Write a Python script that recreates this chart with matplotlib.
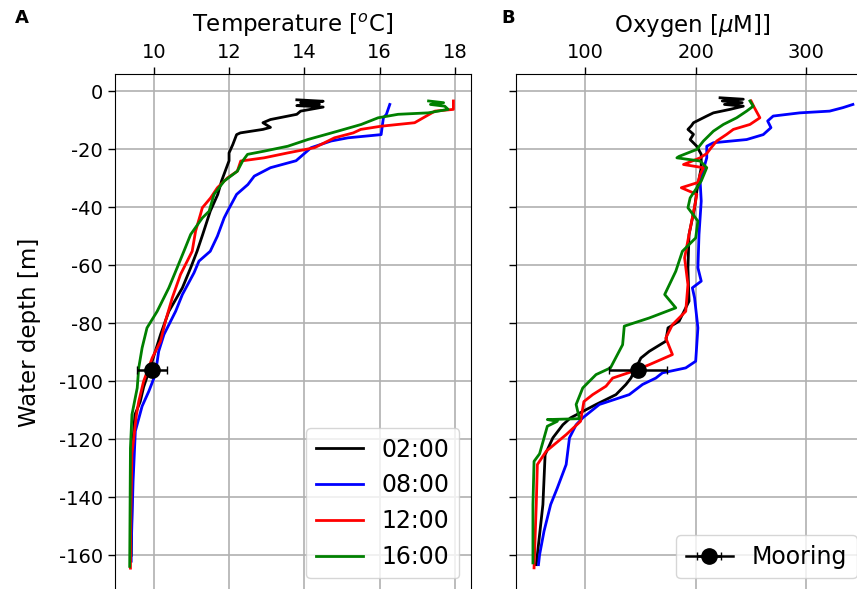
import matplotlib
matplotlib.use("Agg")
import matplotlib.pyplot as plt

plt.rcParams["axes.unicode_minus"] = False

# ---- temperature profiles (depth [m], temperature [C]) ----
t02_depth = [-3.0, -3.5, -4.0, -4.5, -5.0, -5.5, -6.9, -8.0, -9.8, -10.9, -12.5, -13.2, -14.4, -15.0,
             -18.4, -21.3, -24.0, -31.0, -35.6, -41.4, -49.4, -55.2, -60.9, -67.8, -75.9, -83.9,
             -89.7, -96.6, -102.0, -107.0, -111.5, -120.0, -140.0, -160.0]
t02_temp = [13.8, 14.5, 13.9, 14.4, 13.8, 14.5, 13.9, 13.8, 13.1, 12.9, 13.1, 12.9, 12.3, 12.2,
            12.1, 12.0, 12.0, 11.8, 11.7, 11.5, 11.3, 11.15, 10.98, 10.76, 10.4, 10.18,
            10.04, 9.87, 9.73, 9.64, 9.5, 9.45, 9.42, 9.4]

t08_depth = [-4.6, -8.0, -9.2, -15.0, -16.1, -17.2, -19.5, -24.0, -26.4, -29.3, -32.2, -35.6, -41.4,
             -43.7, -50.0, -55.2, -58.6, -62.6, -70.1, -75.9, -83.9, -89.7, -97.7, -103.4, -108.6,
             -117.2, -134.5, -157.5, -162.0]
t08_temp = [16.27, 16.18, 16.1, 16.04, 15.16, 14.71, 14.18, 13.78, 13.1, 12.67, 12.5, 12.2, 11.96,
            11.87, 11.69, 11.5, 11.2, 11.07, 10.76, 10.58, 10.27, 10.13, 10.04, 9.87, 9.69,
            9.51, 9.45, 9.4, 9.4]

t12_depth = [-3.4, -6.3, -6.9, -8.6, -10.9, -12.1, -13.2, -14.4, -16.1, -19.5, -21.3, -23.0, -24.1,
             -27.6, -29.9, -33.3, -36.8, -40.2, -42.5, -48.3, -55.2, -63.2, -71.3, -79.3, -86.2,
             -91.9, -100.0, -107.0, -111.5, -125.0, -145.0, -164.4]
t12_temp = [17.96, 17.96, 17.47, 17.24, 16.93, 16.04, 15.5, 15.3, 14.8, 14.27, 13.56, 12.93, 12.31,
            12.22, 11.96, 11.69, 11.51, 11.29, 11.24, 11.11, 11.02, 10.71, 10.49, 10.31, 10.18,
            9.96, 9.73, 9.6, 9.54, 9.42, 9.39, 9.38]

t16_depth = [-3.4, -4.0, -4.6, -5.2, -6.3, -7.5, -8.0, -9.2, -11.5, -13.8, -16.7, -19.0, -20.7, -21.8,
             -24.1, -27.6, -31.0, -35.6, -41.4, -43.7, -49.4, -55.2, -60.9, -67.8, -75.9, -81.6,
             -88.5, -95.4, -102.3, -111.5, -123.0, -163.8]
t16_temp = [17.3, 17.7, 17.35, 17.73, 17.82, 17.29, 16.49, 15.96, 15.51, 14.89, 14.09, 13.56, 12.93, 12.49,
            12.36, 12.22, 11.87, 11.6, 11.47, 11.29, 10.98, 10.8, 10.62, 10.4, 10.09, 9.82,
            9.69, 9.6, 9.56, 9.42, 9.38, 9.36]

# ---- oxygen profiles (depth [m], oxygen [uM]) ----
o02_depth = [-2.3, -2.8, -3.4, -4.0, -4.6, -5.2, -6.3, -7.5, -8.6, -10.9, -12.0, -13.2, -14.9, -16.7,
             -19.0, -21.8, -26.4, -34.5, -40.2, -49.4, -61.0, -72.4, -79.3, -81.6, -86.2, -89.7,
             -92.0, -98.9, -101.1, -104.6, -108.0, -112.6, -115.0, -119.5, -125.3, -142.5, -159.8, -163.2]
o02_oxy = [222, 243, 224, 242, 226, 243, 231, 216, 210, 198, 196, 193, 198, 195,
           201, 205, 205, 201, 199, 194, 193, 194, 185, 175, 173, 158,
           150.5, 141.5, 137, 128, 110, 87, 80, 71, 64, 62, 57, 56]

o08_depth = [-4.6, -5.7, -6.9, -7.5, -8.6, -10.3, -12.6, -15.0, -16.7, -17.8, -19.0, -23.0, -31.0,
             -37.9, -49.4, -60.9, -65.5, -67.8, -71.3, -81.6, -93.1, -95.4, -97.1, -98.9, -101.1,
             -104.6, -108.0, -112.6, -115.0, -119.5, -128.7, -136.8, -142.5, -151.7, -159.8, -163.2]
o08_oxy = [342, 333, 321, 294, 270, 265, 268, 261, 246, 216, 210, 210, 204,
           205, 203, 202, 205, 197, 199, 202, 200, 191, 170, 164, 152,
           140, 113, 98, 92, 86, 83, 75, 69, 63, 59, 58]

o12_depth = [-3.4, -5.7, -9.2, -11.5, -13.2, -14.9, -17.2, -19.5, -21.5, -23.0, -25.3, -26.4, -28.7,
             -31.5, -33.3, -35.6, -37.9, -49.4, -57.5, -66.7, -75.9, -80.5, -85.1, -90.8, -94.3,
             -96.6, -98.9, -101.7, -104.6, -107.0, -113.8, -118.4, -124.1, -128.7, -142.5, -164.3]
o12_oxy = [250, 253, 258, 249, 234, 228, 219, 214, 210, 204, 189, 207, 204,
           202, 187, 201, 200, 194, 190, 193, 191, 179, 173, 179, 158,
           143, 125, 119, 107, 99, 96, 83, 65, 57, 56, 54]

o16_depth = [-3.4, -5.2, -6.9, -9.2, -11.5, -13.8, -17.2, -20.1, -22.5, -23.0, -24.1, -26.4, -31.0,
             -36.8, -40.2, -44.8, -50.6, -55.2, -62.1, -70.1, -74.7, -78.2, -81.0, -87.4, -95.4,
             -97.7, -102.3, -108.0, -112.9, -113.2, -113.8, -115.5, -125.0, -127.6, -142.5, -162.6]
o16_oxy = [249, 252, 246, 237, 225, 216, 207, 201, 185, 183, 204, 210, 205,
           195, 193, 202, 200, 188, 182, 172, 182, 158, 135.5, 134, 123,
           110, 98, 92, 95, 66, 75, 66, 59, 54, 53, 53]

# ---- mooring point ----
moor_depth = -96.0
moor_temp, moor_temp_err = 9.95, 0.4
moor_oxy, moor_oxy_err = 148.0, 26.0

labels = ["02:00", "08:00", "12:00", "16:00"]
colors = ["k", "b", "r", "g"]

fig = plt.figure(figsize=(8.57, 5.89), dpi=100)
ax1 = fig.add_axes([0.1342, -0.002, 0.4155, 0.8764])
ax2 = fig.add_axes([0.6021, -0.002, 0.4112, 0.8764], sharey=ax1)

temps = [(t02_temp, t02_depth), (t08_temp, t08_depth), (t12_temp, t12_depth), (t16_temp, t16_depth)]
oxys = [(o02_oxy, o02_depth), (o08_oxy, o08_depth), (o12_oxy, o12_depth), (o16_oxy, o16_depth)]

for (x, y), c, lab in zip(temps, colors, labels):
    ax1.plot(x, y, color=c, lw=2.0, label=lab)
ax1.errorbar([moor_temp], [moor_depth], xerr=[moor_temp_err], fmt="o", color="k",
             ms=11, lw=1.8, capsize=3, zorder=5)
for (x, y), c in zip(oxys, colors):
    ax2.plot(x, y, color=c, lw=2.0)
ax2.errorbar([moor_oxy], [moor_depth], xerr=[moor_oxy_err], fmt="-o", color="k",
             ms=11, lw=1.8, capsize=3, zorder=5, label="Mooring")

ax1.set_xlim(8.97, 18.43)
ax1.set_ylim(-172, 5.9)
ax1.set_xticks([10, 12, 14, 16, 18])
ax1.set_yticks(range(-160, 1, 20))
ax2.set_xlim(37.7, 356)
ax2.set_xticks([100, 200, 300])

for ax in (ax1, ax2):
    ax.xaxis.tick_top()
    ax.xaxis.set_label_position("top")
    ax.grid(True, color="#b0b0b0", lw=1.2)
    ax.tick_params(labelsize=14, length=5, width=1.0)
plt.setp(ax2.get_yticklabels(), visible=False)

ax1.set_xlabel(r"Temperature [$^o$C]", size=16.5, labelpad=8)
ax2.set_xlabel(r"Oxygen [$\mu$M]]", size=16.5, labelpad=8)
ax1.set_ylabel("Water depth [m]", size=16.5, labelpad=13)

ax1.legend(loc="lower right", fontsize=17)
ax2.legend(loc="lower right", fontsize=17)

fig.text(22/857, 1-18/589, "A", weight="bold", size=13, ha="center", va="center")
fig.text(508/857, 1-18/589, "B", weight="bold", size=13, ha="center", va="center")

plt.savefig("out.png", dpi=100)
plt.close()
